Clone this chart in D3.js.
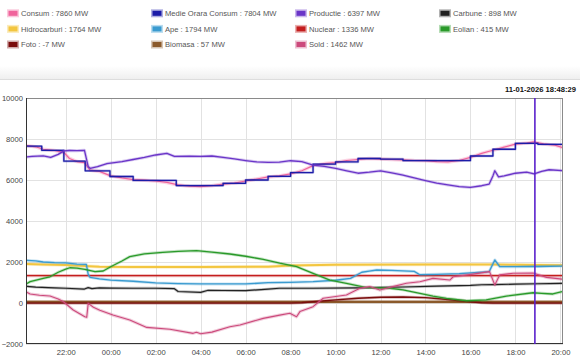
<!DOCTYPE html>
<html><head><meta charset="utf-8">
<script src="https://cdn.jsdelivr.net/npm/d3@7/dist/d3.min.js"></script>
<style>body{margin:0;background:#fff;}svg{display:block;font-family:"Liberation Sans",Arial,sans-serif;}</style>
</head><body>
<svg id="chart" width="580" height="362"></svg>
<script>
// ---- data ----
const seriesNames = ["Consum","Medie Orara Consum","Productie","Carbune","Hidrocarburi","Ape","Nuclear","Eolian","Foto","Biomasa","Sold"];
const legendValues = [7860,7804,6397,898,1764,1794,1336,415,-7,57,1462];
const seriesColors = ["#f0649c","#1c1ca8","#6a35c8","#222222","#f3c640","#3a9bd0","#c41e1e","#2a9a2a","#7a0c0c","#8b5a2b","#cc4a7c"];
const yTicks = [-2000,0,2000,4000,6000,8000,10000];
const timestamp = "11-01-2026 18:48:29";

const consum = [["20:14",7680],["20:40",7620],["21:00",7500],["21:30",7440],["21:55",7350],["22:10",7050],["22:30",6900],["22:50",6850],["23:05",6480],["23:30",6420],["00:00",6200],["00:30",6100],["01:00",6020],["01:30",5990],["02:00",5950],["02:30",5880],["03:00",5760],["03:30",5700],["04:00",5680],["04:30",5720],["05:00",5800],["05:30",5850],["06:00",5950],["06:30",6050],["07:00",6150],["07:30",6200],["08:00",6300],["08:30",6450],["09:00",6700],["09:30",6800],["10:00",6850],["10:30",6950],["11:00",7000],["11:30",7050],["12:00",7020],["12:30",7000],["13:00",6980],["13:30",6950],["14:00",6940],["14:30",6900],["15:00",6880],["15:30",6950],["16:00",7100],["16:30",7300],["17:00",7450],["17:30",7600],["18:00",7750],["18:30",7800],["18:48",7860],["19:15",7760],["19:45",7700],["20:06",7580]];
const medieOrara = [["20:14",7650],["20:56",7450],["21:55",6920],["22:52",6450],["23:58",6170],["01:00",5980],["02:55",5730],["05:00",5840],["06:00",6000],["07:00",6180],["08:00",6360],["09:00",6770],["10:00",6880],["11:00",7050],["12:00",7020],["13:00",6950],["16:00",7170],["17:00",7500],["18:00",7790],["19:00",7740],["20:06",7740]];
const productie = [["20:14",7120],["20:30",7150],["21:00",7180],["21:20",7100],["21:40",7250],["21:55",7420],["22:10",7440],["22:30",7430],["22:50",7450],["23:00",6650],["23:05",6570],["23:25",6650],["23:50",6800],["00:30",6900],["01:00",7000],["01:30",7100],["02:00",7220],["02:30",7300],["02:50",7150],["03:30",7160],["04:00",7150],["04:30",7170],["05:00",7100],["05:30",7030],["06:00",6950],["06:30",6880],["07:00",6860],["07:30",6870],["08:00",6940],["08:30",6900],["09:00",6730],["09:30",6660],["10:00",6570],["10:30",6450],["11:00",6330],["11:30",6380],["12:00",6450],["12:30",6350],["13:00",6240],["13:30",6100],["14:00",5970],["14:30",5850],["15:00",5760],["15:30",5680],["16:00",5640],["16:30",5720],["16:50",5800],["17:00",6200],["17:05",6450],["17:15",6150],["17:30",6200],["18:00",6330],["18:30",6380],["18:50",6300],["19:10",6420],["19:30",6500],["20:06",6460]];
const carbune = [["20:14",820],["20:40",770],["21:30",740],["22:00",720],["22:50",680],["23:00",750],["23:10",700],["23:30",740],["00:00",730],["01:00",720],["02:00",720],["02:50",700],["03:00",560],["04:00",520],["04:20",620],["05:00",610],["06:00",600],["07:00",680],["07:30",720],["09:00",720],["11:00",740],["13:00",780],["14:30",820],["16:00",860],["16:30",890],["17:00",900],["18:00",920],["19:00",940],["20:06",960]];
const hidrocarburi = [["20:14",1900],["21:00",1880],["22:00",1850],["22:50",1800],["23:30",1770],["01:00",1760],["04:00",1760],["07:00",1770],["08:00",1830],["10:00",1870],["14:00",1880],["17:00",1880],["18:00",1860],["20:06",1840]];
const ape = [["20:14",2080],["20:40",2050],["21:00",2000],["21:30",1970],["22:00",1960],["22:30",1900],["22:55",1880],["23:00",1400],["23:05",1250],["23:30",1180],["00:00",1120],["01:00",1060],["02:00",980],["03:00",950],["04:00",930],["05:00",930],["06:00",930],["07:00",990],["08:00",1010],["09:00",1040],["10:00",1110],["10:40",1200],["11:10",1500],["11:30",1560],["11:50",1610],["12:30",1590],["13:30",1540],["13:45",1380],["14:30",1400],["15:30",1430],["16:30",1500],["16:50",1530],["17:05",2100],["17:18",1770],["18:00",1770],["19:00",1780],["20:06",1800]];
const nuclear = [["20:14",1336],["02:00",1334],["08:00",1338],["14:00",1336],["20:06",1336]];
const eolian = [["20:14",930],["20:25",1040],["21:00",1200],["21:18",1280],["21:40",1500],["22:00",1650],["22:11",1720],["22:30",1700],["22:51",1640],["23:18",1530],["23:40",1560],["00:00",1770],["00:30",2050],["00:51",2260],["01:30",2400],["02:19",2470],["03:00",2520],["03:49",2550],["04:30",2480],["05:18",2390],["06:00",2280],["06:47",2130],["07:31",1940],["08:16",1770],["09:00",1450],["09:45",1120],["10:29",960],["11:23",750],["12:25",720],["13:00",640],["13:45",470],["14:20",340],["14:56",230],["15:50",110],["16:42",150],["17:36",340],["18:47",500],["19:10",470],["19:40",440],["20:06",560]];
const foto = [["20:14",-7],["08:00",-7],["08:30",10],["09:00",60],["10:00",150],["11:00",230],["12:00",280],["13:00",290],["14:00",260],["15:00",170],["16:00",60],["16:30",10],["17:00",-7],["20:06",-7]];
const biomasa = [["20:14",57],["08:00",57],["14:00",57],["20:06",57]];
const sold = [["20:14",550],["20:25",440],["20:50",380],["21:18",340],["21:40",200],["21:54",60],["22:20",-340],["22:51",-670],["22:56",-700],["23:00",-20],["23:14",-210],["23:31",-350],["00:06",-590],["00:51",-830],["01:36",-1190],["02:38",-1280],["03:40",-1480],["03:49",-1430],["04:00",-1500],["04:30",-1420],["05:18",-1160],["05:45",-1070],["06:47",-750],["07:31",-590],["07:58",-500],["08:16",-670],["08:25",-420],["09:00",-180],["09:27",230],["10:29",390],["11:05",720],["11:31",800],["11:58",630],["12:33",800],["13:09",960],["13:45",1040],["14:20",1200],["15:05",1120],["15:14",1280],["16:07",1410],["16:51",1530],["17:05",880],["17:18",1370],["17:54",1450],["18:47",1460],["19:23",1250],["20:06",1160]];

// ---- helpers ----
function parseSeries(arr){
  let day = 10, prev = -1;
  return arr.map(([t,v]) => {
    const [h,m] = t.split(":").map(Number);
    const mins = h*60+m;
    if (mins < prev) day++;
    prev = mins;
    return {date:new Date(2026,0,day,h,m), value:v};
  });
}

const svg = d3.select("#chart");
const W = 580, H = 362;
const plot = {left:26, right:563, top:98, bottom:344};
const FS = 7.6;

// header separator with soft shadow
const defs = svg.append("defs");
const grad = defs.append("linearGradient").attr("id","hdr").attr("x1",0).attr("x2",0).attr("y1",0).attr("y2",1);
grad.append("stop").attr("offset","0%").attr("stop-color","#ffffff");
grad.append("stop").attr("offset","100%").attr("stop-color","#efefef");
svg.append("rect").attr("x",0).attr("y",66).attr("width",W).attr("height",13).attr("fill","url(#hdr)");
svg.append("line").attr("x1",0).attr("x2",W).attr("y1",79.5).attr("y2",79.5).attr("stroke","#dddddd");

// legend
const legend = svg.append("g");
seriesNames.forEach((name,i) => {
  const col = i % 4, row = Math.floor(i/4);
  const gx = 7 + col*144, gy = 13.3 + row*15.6;
  const light = d3.interpolateRgb(seriesColors[i], "#ffffff")(0.65);
  legend.append("rect").attr("x",gx).attr("y",gy-4).attr("width",12).attr("height",8).attr("fill",light);
  legend.append("rect").attr("x",gx+1.5).attr("y",gy-2.5).attr("width",9).attr("height",5).attr("fill",seriesColors[i]);
  legend.append("text").attr("x",gx+14).attr("y",gy+2.8).attr("font-size",FS).attr("fill","#555")
    .text(`${name} : ${legendValues[i]} MW`);
});

// timestamp
svg.append("text").attr("x",576).attr("y",92).attr("text-anchor","end").attr("font-size",FS)
  .attr("font-weight","bold").attr("fill","#111").text(timestamp);

// scales
const x = d3.scaleTime()
  .domain([new Date(2026,0,10,20,14), new Date(2026,0,11,20,7)])
  .range([plot.left, plot.right]);
const y = d3.scaleLinear().domain([-2000,10000]).range([plot.bottom, plot.top]);

const xTicks = d3.timeHour.every(2).range(new Date(2026,0,10,21), new Date(2026,0,11,20,5));

// grid
const grid = svg.append("g");
grid.selectAll(".vg").data(xTicks).join("line")
  .attr("x1",d=>Math.round(x(d))+0.5).attr("x2",d=>Math.round(x(d))+0.5)
  .attr("y1",plot.top).attr("y2",plot.bottom).attr("stroke","#e2e2e2");
grid.selectAll(".hg").data(yTicks).join("line")
  .attr("x1",plot.left).attr("x2",plot.right)
  .attr("y1",d=>Math.round(y(d))+0.5).attr("y2",d=>Math.round(y(d))+0.5).attr("stroke","#e2e2e2");

// axes labels via d3 axes
const xAxis = d3.axisBottom(x).tickValues(xTicks).tickFormat(d3.timeFormat("%H:%M")).tickSize(0).tickPadding(6);
const gx = svg.append("g").attr("transform",`translate(0,${plot.bottom})`).call(xAxis);
gx.select(".domain").remove();
gx.selectAll("text").attr("font-size",FS).attr("fill","#444").attr("font-family","'Liberation Sans',Arial,sans-serif");

const yAxis = d3.axisLeft(y).tickValues(yTicks).tickFormat(d3.format("d")).tickSize(0).tickPadding(3);
const gy = svg.append("g").attr("transform",`translate(${plot.left},0)`).call(yAxis);
gy.select(".domain").remove();
gy.selectAll("text").attr("font-size",FS).attr("fill","#444").attr("font-family","'Liberation Sans',Arial,sans-serif");

// frame
svg.append("rect").attr("x",plot.left+0.5).attr("y",plot.top+0.5)
  .attr("width",plot.right-plot.left-1).attr("height",plot.bottom-plot.top-1)
  .attr("fill","none").attr("stroke","#8a8a8a");
svg.append("line").attr("x1",plot.left+0.5).attr("x2",plot.left+0.5).attr("y1",plot.top).attr("y2",plot.bottom).attr("stroke","#333");
svg.append("line").attr("x1",plot.left).attr("x2",plot.right).attr("y1",plot.bottom-0.5).attr("y2",plot.bottom-0.5).attr("stroke","#333");

// lines
const clip = defs.append("clipPath").attr("id","pc");
clip.append("rect").attr("x",plot.left+1).attr("y",plot.top+1).attr("width",plot.right-plot.left-2).attr("height",plot.bottom-plot.top-2);
const lines = svg.append("g").attr("clip-path","url(#pc)");

const lineGen = d3.line().x(d=>x(d.date)).y(d=>y(d.value)).curve(d3.curveLinear);
const stepGen = d3.line().x(d=>x(d.date)).y(d=>y(d.value)).curve(d3.curveStepAfter);

const drawOrder = [
  {data:biomasa, ci:9, w:2.2, halo:3.5},
  {data:foto, ci:8, w:1.4, halo:3},
  {data:hidrocarburi, ci:4, w:2, halo:3.5},
  {data:nuclear, ci:6, w:1.3, halo:3.2},
  {data:carbune, ci:3, w:1.2, halo:2.8},
  {data:ape, ci:5, w:1.3, halo:3},
  {data:eolian, ci:7, w:1.3, halo:3},
  {data:sold, ci:10, w:1.1, halo:3.2},
  {data:consum, ci:0, w:1.2, halo:3.5},
  {data:medieOrara, ci:1, w:1.3, halo:2.5, step:true},
  {data:productie, ci:2, w:1.3, halo:3},
];
drawOrder.forEach(s => {
  const pts = parseSeries(s.data);
  const gen = s.step ? stepGen : lineGen;
  const col = seriesColors[s.ci];
  lines.append("path").attr("d",gen(pts)).attr("fill","none")
    .attr("stroke",col).attr("stroke-opacity",0.28).attr("stroke-width",s.halo).attr("stroke-linejoin","round");
  lines.append("path").attr("d",gen(pts)).attr("fill","none")
    .attr("stroke",col).attr("stroke-width",s.w).attr("stroke-linejoin","round");
});

// cursor line
const cursorTime = new Date(2026,0,11,18,52);
svg.append("line").attr("x1",x(cursorTime)).attr("x2",x(cursorTime))
  .attr("y1",plot.top).attr("y2",plot.bottom).attr("stroke","#5a22cc").attr("stroke-width",1.6);
</script>
</body></html>
